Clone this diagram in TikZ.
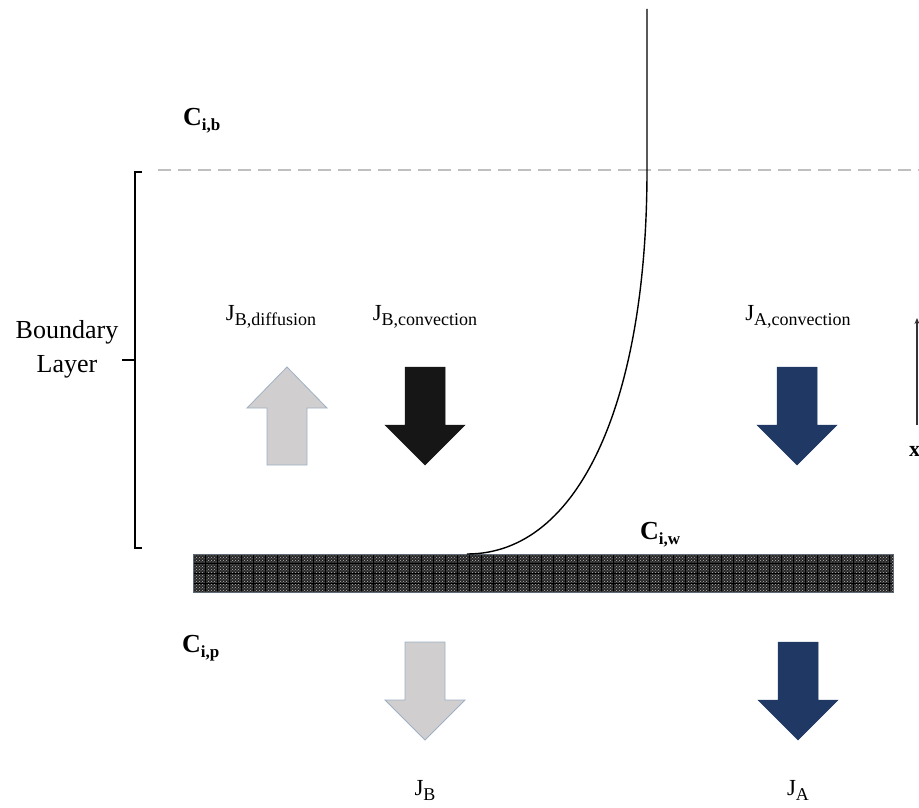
\documentclass[tikz,border=0pt]{standalone}
\usepackage{fontspec}
\setmainfont{Liberation Serif}
\usetikzlibrary{patterns,arrows.meta}
\definecolor{flgray}{HTML}{D0CECE}
\definecolor{flgrayedge}{HTML}{9FB0C4}
\definecolor{flblue}{HTML}{203864}
\definecolor{flblack}{HTML}{161616}
\definecolor{membr}{HTML}{262626}
\newcommand\fluxdown[4]{% name, center x, top y, style
  \path[#4] (#2-20,#3) coordinate (#1) -- (#2+20,#3) -- (#2+20,#3+58) -- (#2+40,#3+58)
    -- (#2,#3+98) -- (#2-40,#3+58) -- (#2-20,#3+58) -- cycle;}
\newcommand\fluxup[4]{% name, center x, bottom y, style
  \path[#4] (#2-20,#3) coordinate (#1) -- (#2+20,#3) -- (#2+20,#3-57) -- (#2+40,#3-57)
    -- (#2,#3-98) -- (#2-40,#3-57) -- (#2-20,#3-57) -- cycle;}
\newcommand\Jlab[2]{{\fontsize{23}{26}\selectfont #1}{\fontsize{18}{20}\selectfont\raisebox{-5pt}{#2}}}
\newcommand\Clab[2]{{\fontsize{26}{28}\selectfont\bfseries #1}{\fontsize{17}{20}\selectfont\bfseries\raisebox{-5pt}{#2}}}
\tikzset{
  grayflux/.style={fill=flgray,draw=flgrayedge,line width=0.8pt},
  blackflux/.style={fill=flblack,draw=flblack,line width=0.5pt},
  blueflux/.style={fill=flblue,draw=flblue,line width=0.5pt},
  lab/.style={inner sep=0pt,anchor=base},
  labw/.style={inner sep=0pt,anchor=base west},
}
\begin{document}
\begin{tikzpicture}[x=1pt,y=-1pt]
\useasboundingbox (0,0) rectangle (919,808);
% dashed bulk boundary
\coordinate (dashL) at (158,170);
\coordinate (dashR) at (919,170);
\draw[gray!50,line width=1.2pt,dash pattern=on 13pt off 7pt] (dashL) -- (dashR);
% bracket
\coordinate (brT) at (142,172);
\coordinate (brB) at (142,548);
\coordinate (brM) at (122,360);
\draw[line width=1.3pt] (brT) -- (135,172) -- (135,548) -- (brB);
\draw[line width=1.3pt] (brM) -- (135,360);
\node[align=center,inner sep=0pt,anchor=base,font=\fontsize{26}{34}\selectfont] (bl) at (67,372)
  {Boundary\\Layer};
% membrane
\path[fill=membr] (193,554) rectangle (893,592);
\path[pattern=crosshatch dots,pattern color=gray!55] (193,554) rectangle (893,592);
\foreach \xx in {205,217,...,893} \draw[black,line width=0.5pt] (\xx,555) -- (\xx,591);
\foreach \yy in {563,573,583} \draw[black,line width=0.5pt] (194,\yy) -- (892,\yy);
\draw[draw=flgrayedge!60!black,line width=0.7pt] (193,554) rectangle (893,592);
\node[inner sep=0pt] (membrane) at (543,573) {};
% concentration profile
\coordinate (pTop) at (647,9);
\coordinate (pBot) at (467,554);
\draw[line width=1.4pt] (pBot) .. controls (580,554) and (647,400) .. (647,170) -- (pTop);
% flux arrows
\fluxup{jbd}{287}{465}{grayflux}
\fluxdown{jbc}{425}{367}{blackflux}
\fluxdown{jac}{797}{367}{blueflux}
\fluxdown{jb}{425}{642}{grayflux}
\fluxdown{ja}{798}{642}{blueflux}
% labels
\node[lab] (ljbd) at (271,320) {\Jlab{J}{B,diffusion}};
\node[lab] (ljbc) at (425,320) {\Jlab{J}{B,convection}};
\node[lab] (ljac) at (798,320) {\Jlab{J}{A,convection}};
\node[lab] (ljb) at (425,795) {\Jlab{J}{B}};
\node[lab] (lja) at (798,795) {\Jlab{J}{A}};
\node[labw] (cib) at (183,125) {\Clab{C}{i,b}};
\node[labw] (ciw) at (640,539) {\Clab{C}{i,w}};
\node[labw] (cip) at (182,652) {\Clab{C}{i,p}};
% x axis
\coordinate (xa0) at (917,425);
\coordinate (xa1) at (917,318);
\draw[black!80,line width=1.2pt,-{Stealth[length=6pt,width=5pt]}] (xa0) -- (xa1);
\node[labw] (xlab) at (909,456) {\fontsize{22}{24}\selectfont\bfseries x};
\end{tikzpicture}
\end{document}
